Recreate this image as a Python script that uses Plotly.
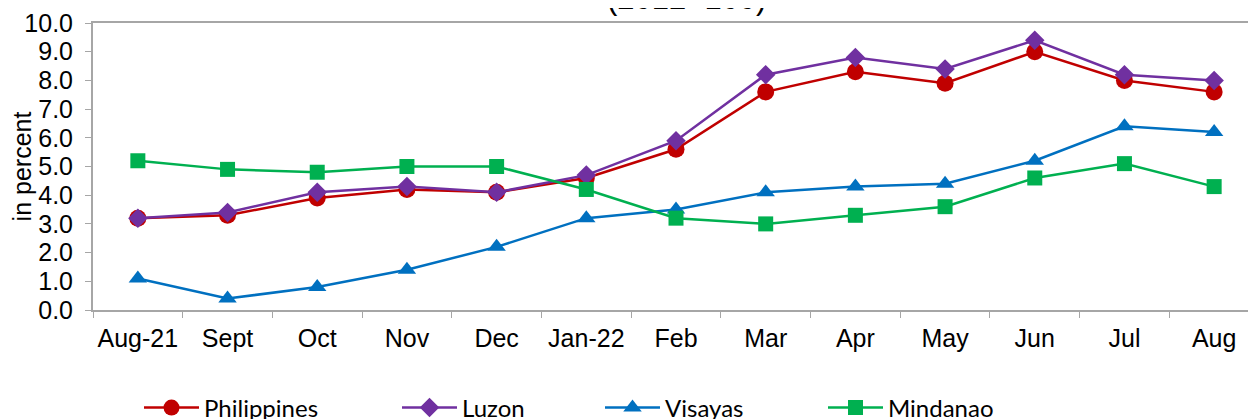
import plotly.graph_objects as go

months = ["Aug-21", "Sept", "Oct", "Nov", "Dec", "Jan-22", "Feb", "Mar", "Apr", "May", "Jun", "Jul", "Aug"]
philippines = [3.2, 3.3, 3.9, 4.2, 4.1, 4.6, 5.6, 7.6, 8.3, 7.9, 9.0, 8.0, 7.6]
luzon = [3.2, 3.4, 4.1, 4.3, 4.1, 4.7, 5.9, 8.2, 8.8, 8.4, 9.4, 8.2, 8.0]
visayas = [1.1, 0.4, 0.8, 1.4, 2.2, 3.2, 3.5, 4.1, 4.3, 4.4, 5.2, 6.4, 6.2]
mindanao = [5.2, 4.9, 4.8, 5.0, 5.0, 4.2, 3.2, 3.0, 3.3, 3.6, 4.6, 5.1, 4.3]
y_ticks = [0, 1, 2, 3, 4, 5, 6, 7, 8, 9, 10]

series = [
    ("Philippines", philippines, "#C00000", "circle", 17, "legend"),
    ("Luzon", luzon, "#7030A0", "diamond", 15, "legend2"),
    ("Visayas", visayas, "#0070C0", "triangle-up", 16, "legend3"),
    ("Mindanao", mindanao, "#00B050", "square", 15, "legend4"),
]

fig = go.Figure()
for name, vals, color, sym, size, lg in series:
    fig.add_trace(go.Scatter(
        x=months, y=vals, name=name, mode="lines+markers",
        line=dict(color=color, width=2.5),
        marker=dict(symbol=sym, size=size, color=color),
        cliponaxis=False, legend=lg,
    ))

# page offset (body margin) of 8px is accounted for in the margins
W, H = 1256, 419
ml, mr, mt, mb = 85, 5, 15, 117
pw = W - ml - mr
ph = H - mt - mb

def legend_at(xpx):
    return dict(
        orientation="h", x=(xpx - 8 - ml) / pw, xanchor="left",
        y=-(408 - 8 - (H - mb)) / ph, yanchor="middle",
        font=dict(family="Lato, Noto Sans, sans-serif", size=24, color="#000000"),
        bgcolor="rgba(0,0,0,0)", itemwidth=55, tracegroupgap=0,
    )

fig.update_layout(
    width=W, height=H,
    margin=dict(l=ml, r=mr, t=mt, b=mb, autoexpand=False),
    paper_bgcolor="white", plot_bgcolor="white",
    font=dict(family="Liberation Sans, Arial, sans-serif", size=25, color="#000000"),
    showlegend=True,
    legend=legend_at(139),
    legend2=legend_at(397),
    legend3=legend_at(600),
    legend4=legend_at(823),
    xaxis=dict(
        type="category", range=[-0.5, 12.5], automargin=False, tickangle=0,
        showline=True, linecolor="#A6A6A6", linewidth=2, mirror=True,
        ticks="outside", tickson="boundaries", ticklen=6, tickcolor="#A6A6A6",
        showgrid=False, tickfont=dict(size=25), ticklabelstandoff=5,
    ),
    yaxis=dict(
        range=[0, 10], tickvals=y_ticks, tickformat=".1f", automargin=False,
        showline=True, linecolor="#A6A6A6", linewidth=2, mirror=True,
        ticks="outside", ticklen=6, tickcolor="#A6A6A6",
        showgrid=False, zeroline=False, tickfont=dict(size=25), ticklabelstandoff=7,
        title=dict(text="in percent", font=dict(size=25), standoff=0),
    ),
    annotations=[dict(
        text="(2012=100)", xref="paper", yref="paper",
        x=(686 - 8 - ml) / pw, y=1 + 5 / ph, xanchor="center", yanchor="bottom",
        showarrow=False, font=dict(size=31),
    )],
)

fig.write_html("out.html")
